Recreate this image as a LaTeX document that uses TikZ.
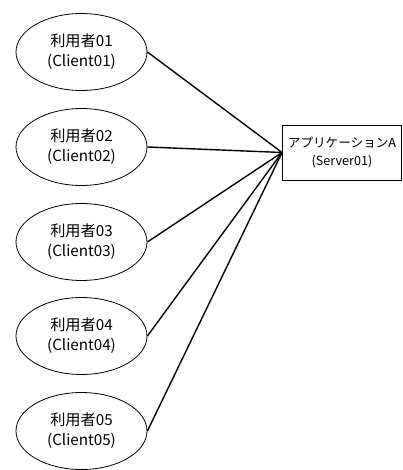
\documentclass[tikz,border=0pt]{standalone}
\usepackage{fontspec}
\setmainfont{Noto Sans CJK JP}
\usetikzlibrary{shapes.geometric}
\begin{document}
\begin{tikzpicture}[x=1pt,y=-1pt,
  client/.style={draw=black, line width=0.8pt, ellipse, minimum width=131pt, minimum height=77pt, inner sep=0pt, align=center, font=\fontsize{15.2pt}{20pt}\selectfont},
  server/.style={draw=black, line width=0.9pt, rectangle, minimum width=119pt, minimum height=55pt, inner sep=0pt, align=center, font=\fontsize{12.6pt}{18pt}\selectfont},
  link/.style={line width=1.4pt, black}]
\useasboundingbox (0,0) rectangle (403,470);
\node[server] (s) at (342,152.5) {アプリケーションA\\(Server01)};
\node[client] (c1) at (81.5,52) {利用者01\\(Client01)};
\node[client] (c2) at (81.5,147) {利用者02\\(Client02)};
\node[client] (c3) at (81.5,242) {利用者03\\(Client03)};
\node[client] (c4) at (81.5,336) {利用者04\\(Client04)};
\node[client] (c5) at (81.5,431) {利用者05\\(Client05)};
\foreach \i in {1,...,5} {\draw[link] (c\i.east) -- (s.west);}
\end{tikzpicture}
\end{document}
